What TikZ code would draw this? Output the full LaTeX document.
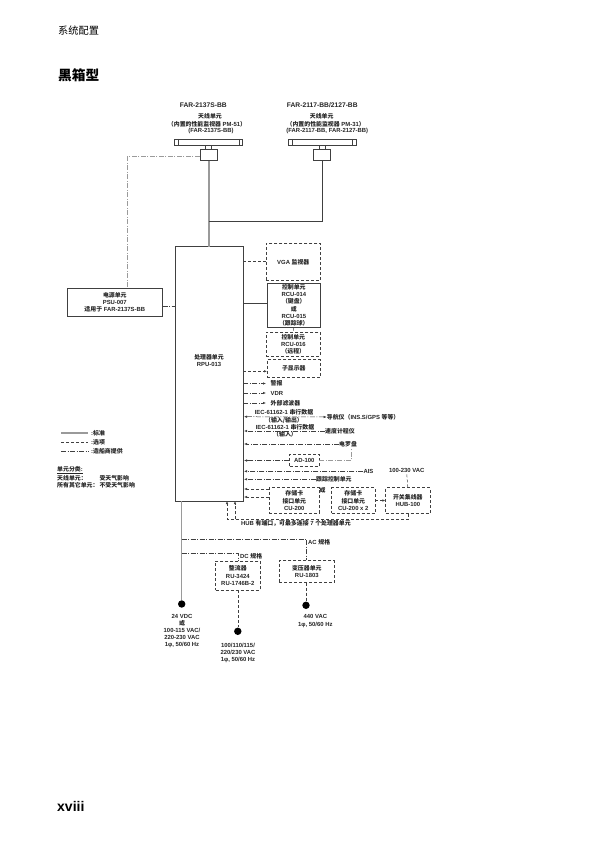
\documentclass[tikz,border=0pt]{standalone}
\usepackage{fontspec}
\usepackage{tikz}
\usetikzlibrary{arrows.meta, positioning}
\setmainfont{Liberation Sans}
\newfontfamily\cjk{Noto Sans CJK SC}
\newcommand{\zh}[1]{{\cjk\bfseries #1}}
\definecolor{linegray}{HTML}{9A9A9A}
\definecolor{linedark}{HTML}{404040}

\begin{document}
\begin{tikzpicture}[
    x=1pt, y=-1pt,
    label/.style={inner sep=0pt, align=center, font=\fontsize{5.9}{7.2}\selectfont\bfseries, text=black!85},
    leftlabel/.style={label, anchor=west},
    unitbox/.style={rectangle, draw=linedark, line width=0.6pt, inner sep=0pt, label},
    optbox/.style={unitbox, densely dashed},
    stdline/.style={draw=linedark, line width=0.6pt},
    thickline/.style={draw=linegray, line width=1.4pt},
    optline/.style={draw=linedark, line width=0.5pt, densely dashed},
    yardline/.style={draw=linedark, line width=0.5pt, dash pattern=on 5pt off 1.5pt on 1pt off 1.5pt},
    tip/.style={-{Latex[length=3pt,width=2.4pt]}},
    twotip/.style={{Latex[length=3pt,width=2.4pt]}-{Latex[length=3pt,width=2.4pt]}},
    dot/.style={circle, fill=black, inner sep=0pt, minimum size=7.4pt}
]
\path[use as bounding box, fill=white] (0,0) rectangle (595,842);

% page headings
\node[anchor=west, inner sep=0pt, font=\fontsize{10.2}{12}\selectfont] (chapter) at (58,31) {{\cjk 系统配置}};
\node[anchor=west, inner sep=0pt, font=\fontsize{13.7}{15}\selectfont\bfseries] (title) at (58,75) {\zh{黑箱型}};
\node[anchor=west, inner sep=0pt, font=\fontsize{14}{16}\selectfont\bfseries] (pageno) at (57,806) {xviii};

% antennas
\node[label, font=\fontsize{6.7}{7}\selectfont\bfseries] (modela) at (203.3,105.3) {FAR-2137S-BB};
\node[label] (anta1) at (210,116.3) {\zh{天线单元}};
\node[label] (anta2) at (207,124) {\zh{（内置的性能监视器} PM-51\zh{）}};
\node[label] (anta3) at (211,130.7) {(FAR-2137S-BB)};
\node[label, font=\fontsize{6.7}{7}\selectfont\bfseries] (modelb) at (322.3,105.3) {FAR-2117-BB/2127-BB};
\node[label] (antb1) at (321.7,116.3) {\zh{天线单元}};
\node[label] (antb2) at (325.7,124) {\zh{（内置的性能监视器} PM-31\zh{）}};
\node[label] (antb3) at (327.3,130.7) {(FAR-2117-BB, FAR-2127-BB)};

\draw[stdline] (174.5,139) rectangle (242.7,145.7) (178,139) -- (178,145.7) (239,139) -- (239,145.7);
\draw[stdline] (205.7,145.7) rectangle (211.7,149);
\node[unitbox, minimum width=17pt, minimum height=11.7pt] (geara) at (208.5,154.9) {};
\draw[stdline] (288,139) rectangle (356,145.7) (292,139) -- (292,145.7) (352.7,139) -- (352.7,145.7);
\draw[stdline] (319.7,145.7) rectangle (325.3,149);
\node[unitbox, minimum width=17.7pt, minimum height=11.7pt] (gearb) at (321.8,154.9) {};

% processor and power supply
\node[unitbox, minimum width=67.8pt, minimum height=254.3pt] (rpu) at (209.4,373.8) {};
\node[label] (rputext) at (209,360.5) {\zh{处理器单元}\\RPU-013};
\node[unitbox, minimum width=95pt, minimum height=27.7pt] (psu) at (114.8,302.2) {\zh{电源单元}\\PSU-007\\\zh{适用于} FAR-2137S-BB};

\coordinate (joint) at (209,221.3);
\coordinate (psucorner) at (127.3,156.7);
\draw[thickline] (209,160.7) -- (209,246.7);
\draw[stdline] (gearb.south) |- (joint);
\draw[yardline, draw=linegray, line width=0.9pt] (geara.west |- psucorner) -- (psucorner) -- (127.3,288.3);
\draw[yardline] (psu.east |- 0,306) -- (175.5,306);

% right hand units
\node[optbox, minimum width=54.7pt, minimum height=37pt] (vga) at (293.3,261.8) {VGA \zh{监视器}};
\node[unitbox, minimum width=53pt, minimum height=44pt] (rcua) at (293.8,305.3) {\zh{控制单元}\\RCU-014\\\zh{（键盘）}\\\zh{或}\\RCU-015\\\zh{（跟踪球）}};
\node[optbox, minimum width=54pt, minimum height=24pt] (rcub) at (293.3,344) {\zh{控制单元}\\RCU-016\\\zh{（远程）}};
\node[optbox, minimum width=53pt, minimum height=18pt] (subdisp) at (293.8,368.7) {\zh{子显示器}};
\draw[optline] (243.3,261.3) -- (vga.west |- 0,261.3);
\draw[stdline] (243.3,303.3) -- (rcua.west |- 0,303.3);
\draw[optline] (rcua.south) -- (rcub.north);
\draw[optline, tip] (243.3,371.3) -- (subdisp.west |- 0,371.3);

% outputs
\coordinate (alarmend) at (266,383.5);
\coordinate (vdrend) at (266,393);
\coordinate (filterend) at (266,403);
\draw[yardline, tip] (243.3,383.5) -- (alarmend);
\draw[yardline, tip] (243.3,393) -- (vdrend);
\draw[yardline, tip] (243.3,403) -- (filterend);
\node[leftlabel, right=4.5pt of alarmend] (alarm) {\zh{警报}};
\node[leftlabel, right=4.5pt of vdrend] (vdr) {VDR};
\node[leftlabel, right=4.5pt of filterend] (filter) {\zh{外部滤波器}};

% serial data
\node[leftlabel] (nav) at (326.7,417) {\zh{导航仪（}INS.S/GPS \zh{等等）}};
\node[leftlabel] (log) at (325,431) {\zh{速度计程仪}};
\draw[yardline, twotip] (244,416.7) -- (nav.west);
\draw[yardline, tip] (log.west) -- (244,431);
\node[label] (iecatext) at (284,416.5) {IEC-61162-1 \zh{串行数据}\\\zh{（输入/输出）}};
\node[label] (iecbtext) at (285,431) {IEC-61162-1 \zh{串行数据}\\\zh{（输入）}};

% sensors
\node[leftlabel] (gyro) at (339,444) {\zh{电罗盘}};
\node[optbox, minimum width=29.3pt, minimum height=12.4pt] (adc) at (304.3,460.5) {AD-100};
\node[leftlabel] (ais) at (363.3,471.3) {AIS};
\node[leftlabel] (track) at (316,479.3) {\zh{跟踪控制单元}};
\draw[yardline, tip] (gyro.west) -- (244,444);
\draw[yardline, tip] (adc.west) -- (244,460.5);
\draw[yardline, draw=linegray, line width=0.8pt] (adc.east) -| (351.7,448.3);
\draw[yardline, tip] (ais.west) -- (244,471.3);
\draw[yardline, tip] (track.west) -- (244,479.3);

% card interface and hub
\node[optbox, minimum width=50pt, minimum height=25.6pt] (cua) at (294.3,500.5) {\zh{存储卡}\\\zh{接口单元}\\CU-200};
\node[label] (ortext) at (322.5,490) {\zh{或}};
\node[optbox, minimum width=43.3pt, minimum height=25.6pt] (cub) at (353.3,500.5) {\zh{存储卡}\\\zh{接口单元}\\CU-200 x 2};
\node[optbox, minimum width=44.3pt, minimum height=25.6pt] (hub) at (407.8,500.5) {\zh{开关集线器}\\HUB-100};
\node[label] (hubvac) at (406.7,470.7) {100-230 VAC};
\node[leftlabel] (hubnote) at (241,523.5) {HUB \zh{有端口，可最多连接} 7 \zh{个处理器单元}};
\draw[optline, tip] (cua.west |- 0,489) -- (244,489);
\draw[optline, tip] (cua.west |- 0,497) -- (244,497);
\draw[optline, tip] (cub.east) -- (hub.west);
\draw[optline] (hub.north) -- (hubvac.south);
\coordinate (hubout) at (407.8,519.3);
\coordinate (hubmid) at (235,519.3);
\draw[optline, tip] (hub.south) -- (hubout) -- (227,519.3) -- (227,501);
\draw[optline, tip] (hubmid) -- (235,501);

% power
\coordinate (rpuleg) at (181.7,501);
\node[dot] (dota) at (181.7,604) {};
\node[label] (dotatext) at (182,631) {24 VDC\\\zh{或}\\100-115 VAC/\\220-230 VAC\\1φ, 50/60 Hz};
\draw[thickline] (rpuleg) -- (dota);
\node[optbox, minimum width=44.3pt, minimum height=29pt] (rect) at (237.8,575.5) {\zh{整流器}\\RU-3424\\RU-1746B-2};
\node[optbox, minimum width=55pt, minimum height=22pt] (trans) at (306.8,571.7) {\zh{变压器单元}\\RU-1803};
\node[dot] (dotb) at (237.8,631.3) {};
\node[dot] (dotc) at (306,605.3) {};
\node[label] (dotbtext) at (238,652.8) {100/110/115/\\220/230 VAC\\1φ, 50/60 Hz};
\node[label] (dotctext) at (315.3,621) {440 VAC\\1φ, 50/60 Hz};
\draw[yardline] (181.7,539) -| (trans.north -| 306.7,0);
\draw[yardline] (181.7,553.3) -| (rect.north);
\draw[optline] (rect.south) -- (dotb);
\draw[optline] (306,582.7) -- (dotc);
\node[leftlabel] (actext) at (308,542.3) {AC \zh{规格}};
\node[leftlabel] (dctext) at (240,556) {DC \zh{规格}};

% legend
\coordinate (legstart) at (61,433);
\draw[thickline] (legstart) -- (88.3,433);
\draw[optline] (61,442.7) -- (88.3,442.7);
\draw[yardline] (61,451.7) -- (88.3,451.7);
\node[leftlabel] (legstd) at (91,433) {:\zh{标准}};
\node[leftlabel] (legopt) at (91,442.7) {:\zh{选项}};
\node[leftlabel] (legyard) at (91,451.7) {:\zh{造船商提供}};
\node[leftlabel] (classhead) at (57,470) {\underline{\zh{单元分类}:}};
\node[leftlabel] (classa) at (57,478) {\zh{天线单元：}};
\node[leftlabel] (classb) at (57,485.3) {\zh{所有其它单元：}};
\node[leftlabel] (classc) at (99.3,478) {\zh{受天气影响}};
\node[leftlabel] (classd) at (99.3,485.3) {\zh{不受天气影响}};
\end{tikzpicture}
\end{document}
